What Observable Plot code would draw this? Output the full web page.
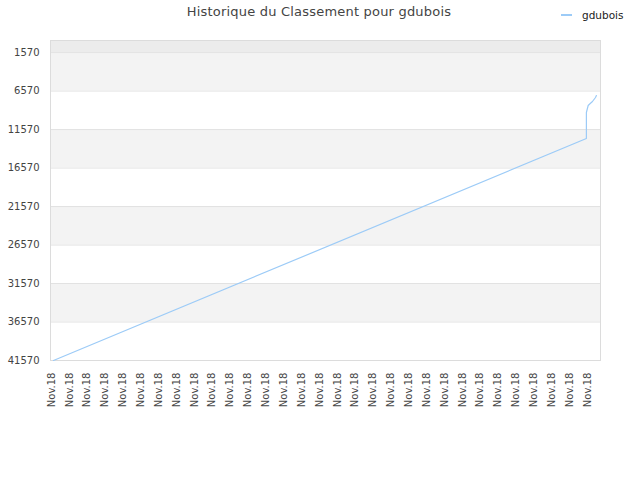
<!DOCTYPE html>
<html>
<head>
<meta charset="utf-8">
<script src="https://cdn.jsdelivr.net/npm/d3@7"></script>
<script src="https://cdn.jsdelivr.net/npm/@observablehq/plot@0.6"></script>
<style>
  html, body { margin: 0; padding: 0; background: #fff; }
  #wrap { position: relative; width: 640px; height: 480px; font-family: "DejaVu Sans", sans-serif; }
  #title { position: absolute; left: 0; width: 638px; top: 4px; text-align: center; font-size: 13px; color: #444; line-height: 16px; letter-spacing: 0.2px; }
  #legend { position: absolute; left: 561px; top: 7px; font-size: 10.5px; color: #222; line-height: 16px; display: flex; align-items: center; }
  #legend .sw { width: 11px; height: 0; border-top: 2px solid #9ccbf7; margin-right: 10px; }
  #chart { position: absolute; left: 0; top: 0; }
</style>
</head>
<body>
<div id="wrap">
  <div id="chart"></div>
  <div id="title">Historique du Classement pour gdubois</div>
  <div id="legend"><span class="sw"></span><span>gdubois</span></div>
</div>
<script>
// Tick labels and values
const seriesName = "gdubois";
const xTickIndex = d3.range(0, 31);          // 31 date ticks
const xTickLabel = "Nov.18";
const yTicks = [1570, 6570, 11570, 16570, 21570, 26570, 31570, 36570, 41570];
const yTop = 0;

// Series: position along the time axis and rank
const position = [0.11, 29.94, 29.94, 30.04, 30.17, 30.28, 30.45, 30.50];
const rank     = [41570, 12730, 9353, 8444, 8145, 7924, 7404, 7145];

const lineData = position.map((p, i) => ({x: p, rank: rank[i]}));

// Alternating bands between tick values
const bandEdges = [yTop, ...yTicks];
const bands = [];
for (let i = 0; i < bandEdges.length - 1; i++) {
  bands.push({y1: bandEdges[i], y2: bandEdges[i + 1], k: i});
}
const bandFill = d => d.k === 0 ? "#ececec" : (d.k % 2 === 1 ? "#f3f3f3" : "#ffffff");

const chart = Plot.plot({
  width: 640,
  height: 480,
  marginLeft: 50,
  marginRight: 40,
  marginTop: 40,
  marginBottom: 120,
  style: {fontFamily: "DejaVu Sans, sans-serif", fontSize: "10px", color: "#444", background: "transparent"},
  x: {domain: [-0.056, 30.73], ticks: xTickIndex, tickFormat: () => xTickLabel, tickRotate: -90, tickSize: 0, tickPadding: 12, label: null},
  y: {domain: [yTop, 41570], reverse: true, ticks: yTicks, tickFormat: d => String(d), tickSize: 0, tickPadding: 11, label: null},
  marks: [
    Plot.rectY(bands, {x1: -0.056, x2: 30.73, y1: "y1", y2: "y2", fill: bandFill}),
    Plot.ruleY(yTicks, {stroke: "#e2e2e2", strokeWidth: 1}),
    Plot.frame({stroke: "#dcdcdc", strokeWidth: 1}),
    Plot.line(lineData, {x: "x", y: "rank", stroke: "#9ccbf7", strokeWidth: 1.2, curve: "linear"})
  ]
});
document.getElementById("chart").appendChild(chart);
</script>
</body>
</html>
